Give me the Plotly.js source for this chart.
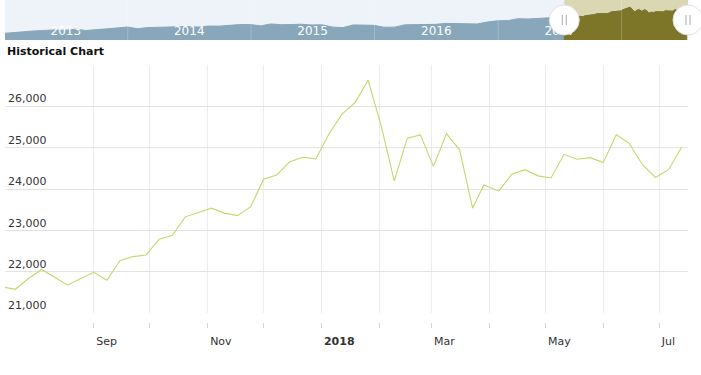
<!DOCTYPE html>
<html>
<head>
<meta charset="utf-8">
<script src="https://cdn.plot.ly/plotly-3.0.1.min.js"></script>
<style>html,body{margin:0;padding:0;background:#fff;}#chart{width:701px;height:375px;}</style>
</head>
<body>
<div id="chart"></div>
<script>
// ---- main weekly series ----
const mainDates = ['2017-07-14','2017-07-21','2017-07-28','2017-08-04','2017-08-11','2017-08-18','2017-08-25',
  '2017-09-01','2017-09-08','2017-09-15','2017-09-22','2017-09-29','2017-10-06','2017-10-13','2017-10-20','2017-10-27',
  '2017-11-03','2017-11-10','2017-11-17','2017-11-24','2017-12-01','2017-12-08','2017-12-15','2017-12-22','2017-12-29',
  '2018-01-05','2018-01-12','2018-01-19','2018-01-26','2018-02-02','2018-02-09','2018-02-16','2018-02-23',
  '2018-03-02','2018-03-09','2018-03-16','2018-03-23','2018-03-29','2018-04-06','2018-04-13','2018-04-20','2018-04-27',
  '2018-05-04','2018-05-11','2018-05-18','2018-05-25','2018-06-01','2018-06-08','2018-06-15','2018-06-22','2018-06-29',
  '2018-07-06','2018-07-13'];
const mainValues = [21640,21580,21840,22060,21870,21680,21840,
  21990,21800,22270,22370,22410,22790,22880,23330,23440,
  23540,23420,23360,23570,24240,24340,24660,24770,24730,
  25330,25810,26090,26630,25530,24200,25230,25310,
  24550,25340,24950,23540,24100,23950,24360,24470,24320,
  24270,24840,24720,24760,24640,25320,25100,24590,24280,
  24470,25010];

// ---- navigator history (read from the overview strip) ----
const navDates = ['2013-01-03','2013-01-31','2013-02-28','2013-03-28','2013-04-30','2013-05-31','2013-06-28','2013-07-31',
  '2013-08-30','2013-09-30','2013-10-31','2013-11-29','2013-12-31','2014-01-31','2014-02-28','2014-03-31','2014-04-30',
  '2014-05-30','2014-06-30','2014-07-31','2014-08-29','2014-09-30','2014-10-31','2014-11-28','2014-12-31','2015-01-30',
  '2015-02-27','2015-03-31','2015-04-30','2015-05-29','2015-06-30','2015-07-31','2015-08-31','2015-09-30','2015-10-30',
  '2015-11-30','2015-12-31','2016-01-29','2016-02-29','2016-03-31','2016-04-29','2016-05-31','2016-06-30','2016-07-29',
  '2016-08-31','2016-09-30','2016-10-31','2016-11-30','2016-12-30','2017-01-31','2017-02-28','2017-03-31','2017-04-28',
  '2017-05-31','2017-06-30'];
const navValues = [13390,13860,14050,14580,14840,15120,14910,15500,
  14810,15130,15550,16090,16580,15700,16320,16460,16580,
  16720,16830,16560,17100,17040,17390,17830,17820,17160,
  18130,17780,17840,18010,17620,17690,16530,16280,17660,
  17720,17430,16470,16520,17690,17770,17790,17930,18430,
  18400,18310,18140,19120,19760,19860,20810,20660,20940,
  21010,21350];

// ---- axis ticks / labels ----
const monthTicks = ['2017-08-01','2017-09-01','2017-10-01','2017-11-01','2017-12-01','2018-01-01',
  '2018-02-01','2018-03-01','2018-04-01','2018-05-01','2018-06-01','2018-07-01'];
const monthLabels = ['','Sep','','Nov','','<b>2018</b>','','Mar','','May','','Jul'];
const yTicks = [21000,22000,23000,24000,25000,26000,27000];
const yLabels = ['21,000','22,000','23,000','24,000','25,000','26,000',''];
const yearStarts = ['2014-01-01','2015-01-01','2016-01-01','2017-01-01','2018-01-01'];
const yearMids = ['2013-07-02','2014-07-02','2015-07-02','2016-07-02','2017-07-02','2018-07-02'];
const yearLabels = ['2013','2014','2015','2016','2017','2018'];

const mainRange = ['2017-07-15 10:00','2018-07-16 10:00'];
const navRange = ['2013-01-03 00:00','2018-07-16 10:00'];
const navYRange = [10000, 30300];

function ms(s){ return Date.parse(s.replace(' ','T') + ':00Z'); }
const selFrac = (ms(mainRange[0]) - ms(navRange[0])) / (ms(navRange[1]) - ms(navRange[0]));

const FONT = 'DejaVu Sans, Verdana, sans-serif';
const lineColor = '#c3d86c';
const navBlue = '#89a7ba';
const navOlive = '#7d7629';

const traces = [
  {x: navDates.concat(mainDates), y: navValues.concat(mainValues), xaxis:'x3', yaxis:'y3', type:'scatter', mode:'lines',
   fill:'tozeroy', fillcolor:navBlue, line:{color:navBlue, width:1}, hoverinfo:'skip'},
  {x: mainDates, y: mainValues, xaxis:'x3', yaxis:'y3', type:'scatter', mode:'lines',
   fill:'tozeroy', fillcolor:navOlive, line:{color:navOlive, width:1}, hoverinfo:'skip'},
  {x: mainDates, y: mainValues, xaxis:'x', yaxis:'y', type:'scatter', mode:'lines',
   line:{color:lineColor, width:1.1}},
  {x: mainDates, y: mainValues, xaxis:'x2', yaxis:'y', type:'scatter', mode:'lines',
   line:{color:lineColor, width:1}, opacity:0, hoverinfo:'skip'}
];

const shapes = [
  {type:'rect', xref:'x3 domain', yref:'y3 domain', x0:0, x1:1, y0:0, y1:1, fillcolor:'#edf3f8', line:{width:0}, layer:'below'},
  {type:'rect', xref:'x3', yref:'y3 domain', x0:mainRange[0], x1:mainRange[1], y0:0, y1:1, fillcolor:'#dbd7b3', line:{width:0}, layer:'below'}
];
yearStarts.forEach(d => shapes.push({type:'line', xref:'x3', yref:'y3 domain', x0:d, x1:d, y0:0, y1:1,
  line:{color:'rgba(255,255,255,0.22)', width:1}, layer:'above'}));
[selFrac, 1].forEach(f => {
  shapes.push({type:'circle', xref:'x3 domain', yref:'y3 domain', xsizemode:'pixel', ysizemode:'pixel',
    xanchor:f, yanchor:0.5, x0:-15, x1:15, y0:-15, y1:15, fillcolor:'#ffffff', line:{color:'#e0e0e0', width:1}, layer:'above'});
  [-2, 2].forEach(o => shapes.push({type:'line', xref:'x3 domain', yref:'y3 domain', xsizemode:'pixel', ysizemode:'pixel',
    xanchor:f, yanchor:0.5, x0:o, x1:o, y0:-5, y1:5, line:{color:'#aaaaaa', width:1}, layer:'above'}));
});

const layout = {
  width:701, height:375,
  margin:{l:5, r:13, t:0, b:53, pad:0},
  paper_bgcolor:'#ffffff', plot_bgcolor:'rgba(0,0,0,0)',
  showlegend:false,
  font:{family:FONT, size:11, color:'#333333'},
  xaxis:{type:'date', range:mainRange, domain:[0,1], anchor:'y', tickmode:'array', tickvals:monthTicks,
    showticklabels:false, ticks:'', showgrid:true, gridcolor:'#ececec', gridwidth:1, zeroline:false, showline:false, fixedrange:true},
  xaxis2:{type:'date', range:mainRange, overlaying:'x', anchor:'free', position:0, tickmode:'array', tickvals:monthTicks,
    ticktext:monthLabels, ticks:'outside', ticklen:5, tickcolor:'#d6d6d6', showgrid:false, zeroline:false, showline:false,
    ticklabelposition:'outside right', ticklabelstandoff:9, ticklabelshift:2,
    tickfont:{family:FONT, size:11, color:'#333333'}, fixedrange:true},
  yaxis:{range:[21000,27000], domain:[0.027,0.7984], anchor:'x', tickmode:'array', tickvals:yTicks, ticktext:yLabels,
    ticklabelposition:'inside top', ticks:'', showgrid:true, gridcolor:'#e3e3e3', gridwidth:1, zeroline:false, showline:false,
    tickfont:{family:FONT, size:11, color:'#333333'}, fixedrange:true},
  xaxis3:{type:'date', range:navRange, domain:[0,1], anchor:'y3', tickmode:'array', tickvals:yearMids, ticktext:yearLabels,
    ticklabelposition:'inside', ticks:'', showgrid:false, zeroline:false, showline:false,
    tickfont:{family:FONT, size:12, color:'#ffffff'}, fixedrange:true},
  yaxis3:{range:navYRange, domain:[0.8758,1], anchor:'x3', visible:false, fixedrange:true},
  shapes:shapes,
  annotations:[{text:'<b>Historical Chart</b>', xref:'paper', yref:'paper', x:0, y:0.8416, xanchor:'left', yanchor:'middle',
    showarrow:false, font:{family:FONT, size:11, color:'#111111'}}]
};

Plotly.newPlot('chart', traces, layout, {displayModeBar:false, staticPlot:true});
</script>
</body>
</html>
